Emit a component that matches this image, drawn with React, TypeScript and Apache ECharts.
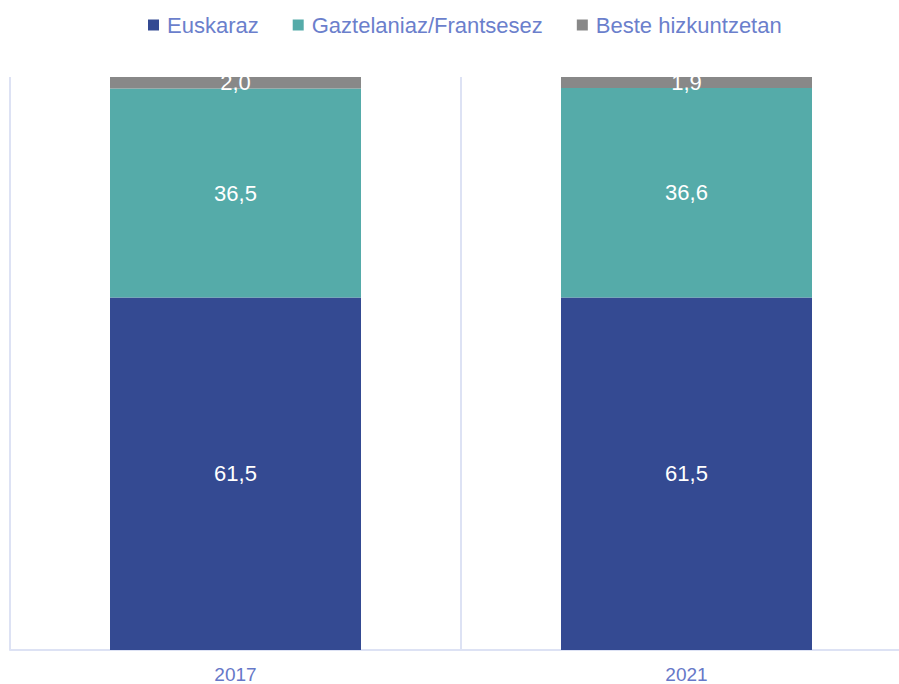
import React, { useEffect, useRef } from "react";
import * as echarts from "echarts";

const categories = ["2017", "2021"];
const seriesNames = ["Euskaraz", "Gaztelaniaz/Frantsesez", "Beste hizkuntzetan"];
const euskaraz = [61.5, 61.5];
const gaztelaniaz = [36.5, 36.6];
const beste = [2.0, 1.9];
const colors = ["#344a92", "#55aba9", "#888888"];

const FONT = "Liberation Sans, Arial, sans-serif";

export default function App() {
  const ref = useRef<HTMLDivElement>(null);
  useEffect(() => {
    document.body.style.margin = "0";
    const chart = echarts.init(ref.current!, null, { renderer: "svg" });
    const fmt = (p: any) => Number(p.value).toFixed(1).replace(".", ",");
    const mk = (name: string, data: number[], color: string) => ({
      name,
      type: "bar",
      stack: "total",
      data,
      barWidth: 251,
      itemStyle: { color },
      label: {
        show: true,
        position: "inside",
        color: "#ffffff",
        fontSize: 22,
        fontFamily: FONT,
        formatter: fmt,
      },
    });
    chart.setOption({
      animation: false,
      color: colors,
      legend: {
        top: 9,
        left: 143,
        itemWidth: 11,
        itemHeight: 11,
        itemGap: 34,
        icon: "rect",
        z: 200,
        textStyle: {
          color: "#6b7fcc",
          fontSize: 22,
          fontFamily: FONT,
          padding: [0, 0, 0, 3],
        },
        data: seriesNames,
      },
      graphic: [
        {
          type: "rect",
          z: 100,
          shape: { x: 0, y: 0, width: 920, height: 77 },
          style: { fill: "#ffffff" },
          silent: true,
        },
      ],
      grid: { left: 10, right: 8, top: 77, bottom: 34 },
      xAxis: {
        type: "category",
        data: categories,
        axisLine: { lineStyle: { color: "#dde2f4", width: 2 } },
        axisTick: { show: false },
        splitLine: { show: true, lineStyle: { color: "#dde2f4", width: 2 } },
        axisLabel: {
          color: "#6678c8",
          fontSize: 19,
          margin: 15,
          fontFamily: FONT,
        },
      },
      yAxis: {
        type: "value",
        min: 0,
        max: 100,
        show: false,
        splitLine: { show: false },
      },
      series: [
        mk(seriesNames[0], euskaraz, colors[0]),
        mk(seriesNames[1], gaztelaniaz, colors[1]),
        mk(seriesNames[2], beste, colors[2]),
      ],
    });
    return () => chart.dispose();
  }, []);
  return (
    <div style={{ width: 899, height: 684, overflow: "hidden", position: "relative" }}>
      <div ref={ref} style={{ width: 920, height: 684 }} />
    </div>
  );
}
